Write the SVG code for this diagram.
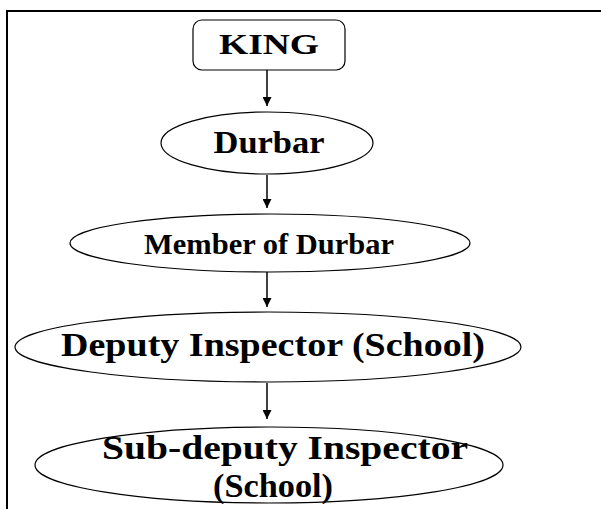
<svg xmlns="http://www.w3.org/2000/svg" width="601" height="509" viewBox="0 0 601 509">
<style>
.n{fill:#fff;stroke:#000;stroke-width:1.2}
.t{font-family:"Liberation Serif","Times New Roman",serif;font-weight:bold;fill:#000;text-anchor:middle}
.c{stroke:#000;stroke-width:1.5;fill:none}
</style>
<defs>
<marker id="ah" viewBox="0 0 10 10" refX="10" refY="5" markerWidth="9" markerHeight="9" markerUnits="userSpaceOnUse" orient="auto">
<path d="M0,0 L10,5 L0,10 z" fill="#000"/>
</marker>
</defs>
<rect width="601" height="509" fill="#fff"/>
<rect x="7" y="11" width="600" height="510" fill="none" stroke="#000" stroke-width="2"/>
<g id="connectors">
<line class="c" x1="267" y1="70" x2="267" y2="106" marker-end="url(#ah)"/>
<line class="c" x1="267" y1="175" x2="267" y2="208" marker-end="url(#ah)"/>
<line class="c" x1="267" y1="272" x2="267" y2="307" marker-end="url(#ah)"/>
<line class="c" x1="267" y1="383" x2="267" y2="419" marker-end="url(#ah)"/>
</g>
<g id="king">
<rect class="n" x="193" y="20" width="152" height="50" rx="9"/>
<text class="t" x="269" y="54" font-size="30" textLength="100" lengthAdjust="spacingAndGlyphs">KING</text>
</g>
<g id="durbar">
<ellipse class="n" cx="267" cy="143" rx="106" ry="31"/>
<text class="t" x="269" y="153" font-size="31" textLength="111" lengthAdjust="spacingAndGlyphs">Durbar</text>
</g>
<g id="member">
<ellipse class="n" cx="270" cy="243" rx="200" ry="29"/>
<text class="t" x="269" y="254" font-size="29" textLength="250" lengthAdjust="spacingAndGlyphs">Member of Durbar</text>
</g>
<g id="deputy">
<ellipse class="n" cx="268" cy="347" rx="253" ry="35"/>
<text class="t" x="273" y="356" font-size="34" textLength="424" lengthAdjust="spacingAndGlyphs">Deputy Inspector (School)</text>
</g>
<g id="subdeputy">
<ellipse class="n" cx="269" cy="465" rx="234" ry="38"/>
<text class="t" x="285" y="459" font-size="33" textLength="366" lengthAdjust="spacingAndGlyphs">Sub-deputy Inspector</text>
<text class="t" x="273" y="497" font-size="33" textLength="120" lengthAdjust="spacingAndGlyphs">(School)</text>
</g>
</svg>
